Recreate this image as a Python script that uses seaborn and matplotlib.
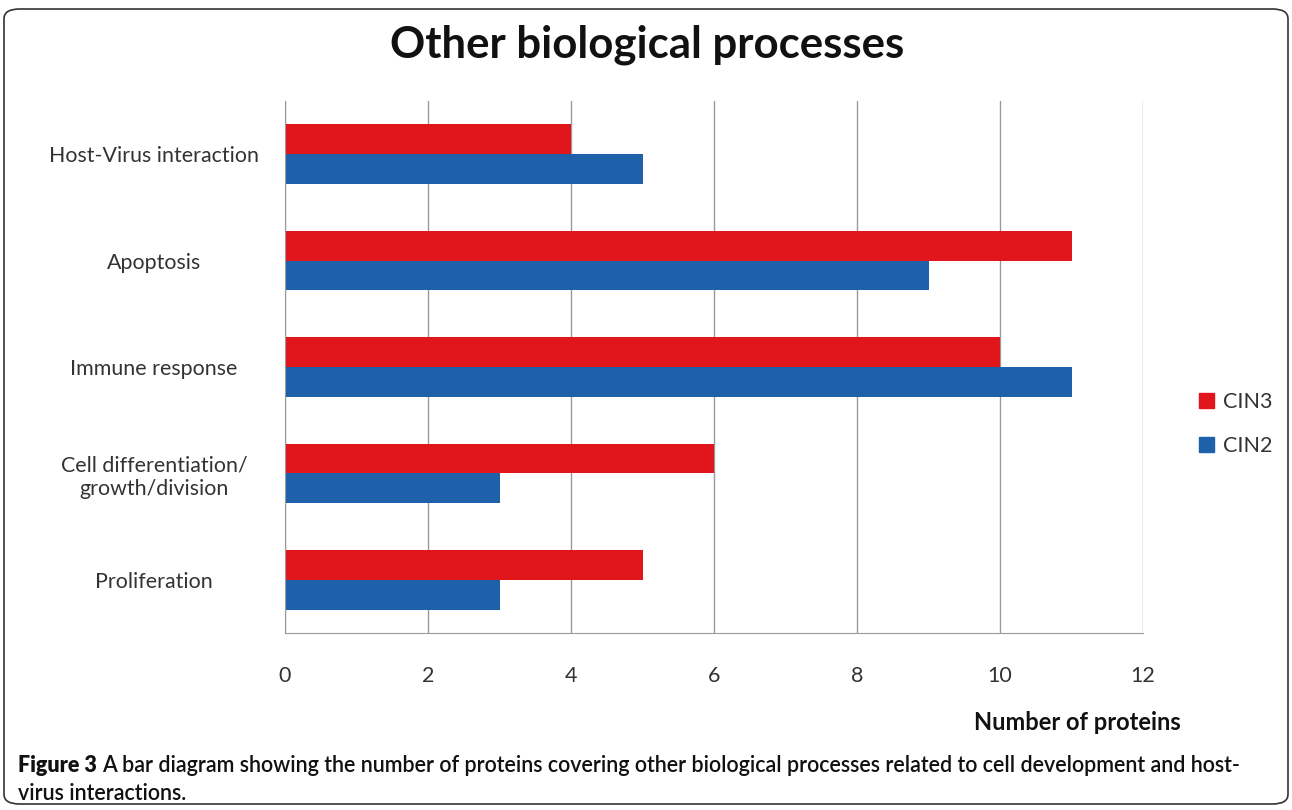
import pandas as pd
import seaborn as sns
import matplotlib.pyplot as plt
from matplotlib.patches import FancyBboxPatch, Patch

# Data
processes = ["Host-Virus interaction", "Apoptosis", "Immune response",
             "Cell differentiation/\ngrowth/division", "Proliferation"]
cin3 = [4, 11, 10, 6, 5]
cin2 = [5, 9, 11, 3, 3]
series = ["CIN3", "CIN2"]
xticks = [0, 2, 4, 6, 8, 10, 12]

df = pd.DataFrame({
    "Process": processes * 2,
    "Count": cin3 + cin2,
    "Series": ["CIN3"] * len(cin3) + ["CIN2"] * len(cin2),
})

sns.set_style("white")
plt.rcParams['font.family'] = ['Lato', 'DejaVu Sans']

colors = {"CIN3": "#E1161D", "CIN2": "#1E60AA"}

fig = plt.figure(figsize=(12.92, 8.10), dpi=100)
ax = fig.add_axes([285 / 1292, 1 - 633 / 810, 858 / 1292, 532 / 810])

sns.barplot(data=df, y="Process", x="Count", hue="Series", hue_order=series,
            palette=colors, orient="h", width=0.56, saturation=1, ax=ax,
            legend=False, linewidth=0)

ax.set_xlim(0, 12)
ax.set_ylim(4.5, -0.5)
ax.set_xticks(xticks)
ax.set_xticklabels([str(t) for t in xticks], fontsize=15.5, color="#333333")
ax.tick_params(axis="x", length=0, pad=24)
ax.tick_params(axis="y", length=0)
for lbl in ax.get_yticklabels():
    lbl.set_fontsize(15.4)
    lbl.set_color("#333333")
    lbl.set_horizontalalignment("center")
    lbl.set_x(-0.147)
ax.set_axisbelow(True)
ax.grid(True, axis="x", color="#9a9a9a", linewidth=1)
ax.set_xlabel("")
ax.set_ylabel("")
for s in ["top", "right"]:
    ax.spines[s].set_visible(False)
ax.spines["left"].set_color("#9a9a9a")
ax.spines["bottom"].set_color("#9a9a9a")

# Title and axis label
fig.text(647 / 1292, 1 - 45 / 810, "Other biological processes", ha="center",
         va="center", fontsize=31.5, fontweight="bold", color="#111111")
fig.text(1077 / 1292, 1 - 722 / 810, "Number of proteins", ha="center",
         va="center", fontsize=17, fontweight="bold", color="#111111")

# Legend
handles = [Patch(color=colors[s], label=s) for s in series]
fig.legend(handles=handles, loc="center", bbox_to_anchor=(1236 / 1292, 1 - 424 / 810),
           frameon=False, fontsize=15.5, handlelength=0.7, handleheight=0.7,
           handletextpad=0.4, labelspacing=1.1, labelcolor="#333333")

# Caption
fig.text(18 / 1292, 1 - 766 / 810, "Figure 3", ha="left", va="center",
         fontsize=15.5, fontweight="heavy", color="#111111")
fig.text(102 / 1292, 1 - 766 / 810,
         "A bar diagram showing the number of proteins covering other biological "
         "processes related to cell development and host-",
         ha="left", va="center", fontsize=15.5, fontweight="semibold", color="#111111")
fig.text(18 / 1292, 1 - 794 / 810, "virus interactions.", ha="left", va="center",
         fontsize=15.5, fontweight="semibold", color="#111111")

# Rounded frame
frame = FancyBboxPatch((4 / 1292, 1 - 804 / 810), 1284 / 1292, 795 / 810,
                       boxstyle="round,pad=0,rounding_size=0.012",
                       transform=fig.transFigure, fill=False,
                       edgecolor="#333333", linewidth=1.2)
fig.patches.append(frame)

fig.savefig("out.png", dpi=100)
